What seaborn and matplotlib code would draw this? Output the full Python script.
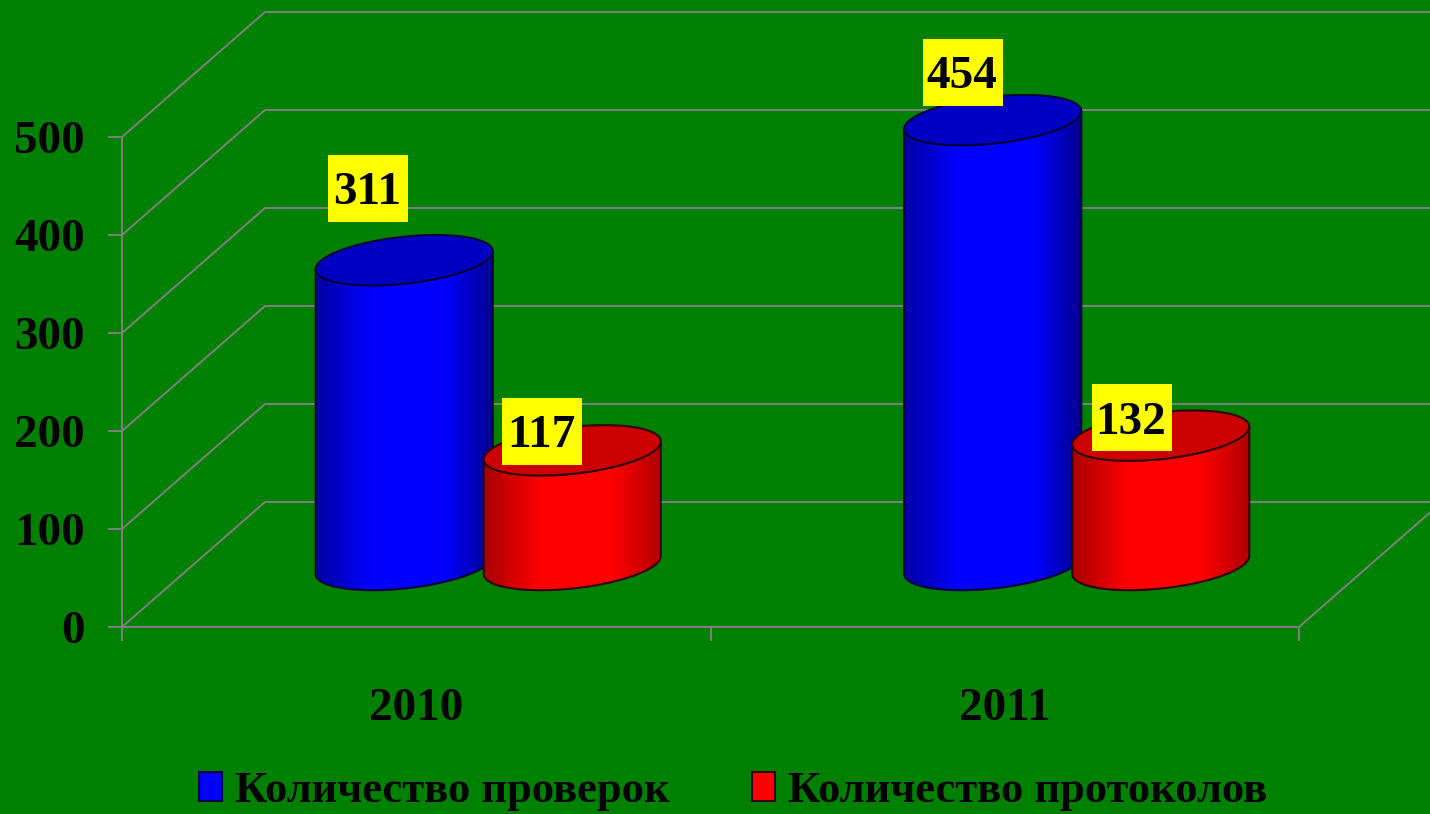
import numpy as np
import pandas as pd
import matplotlib
matplotlib.use("Agg")
import matplotlib.pyplot as plt
import seaborn as sns
from matplotlib.colors import LinearSegmentedColormap
from matplotlib.path import Path
from matplotlib.patches import Polygon, Rectangle
from matplotlib.transforms import IdentityTransform

# data
years = ["2010", "2011"]
checks = [311, 454]
protocols = [117, 132]
series_names = ["Количество проверок", "Количество протоколов"]
y_ticks = [0, 100, 200, 300, 400, 500]

GREEN = "#008000"
GRID = "#808080"
W, H = 1430, 814

# oblique 3D look, all in pixels
BACK_DX, BACK_DY = 143, 125
MID_DX, MID_DY = 72, 62
ELL_B, ELL_S = 23.5, 9
OVERLAP = 4.5  # neighbouring cylinders overlap a little

# label boxes were placed by hand in the original, offset from top of the bar
label_offsets = [[(-36, 72), (-30, 19)], [(-30, 48), (-29, 18)]]

styles = [
    dict(top="#0000c4", edge="#00003c", side=["#0000a4", "#0000ff", "#0000ff", "#000090"]),
    dict(top="#cc0000", edge="#340000", side=["#a80000", "#ff0000", "#ff0000", "#b00000"]),
]

df = pd.DataFrame({
    "year": years * 2,
    "value": checks + protocols,
    "series": [series_names[0]] * 2 + [series_names[1]] * 2,
})

plt.rcParams["font.family"] = ["Liberation Serif", "DejaVu Serif"]
plt.rcParams["font.weight"] = "bold"

fig = plt.figure(figsize=(W / 100, H / 100), dpi=100, facecolor=GREEN)
ax = fig.add_axes([122 / W, (H - 627) / H, (1299 - 122) / W, 490 / H])
ax.patch.set_alpha(0)

sns.barplot(data=df, x="year", y="value", hue="series", hue_order=series_names,
            palette=["#0000ff", "#ff0000"], saturation=1, width=0.571, gap=0, ax=ax)
ax.set_xlim(-0.5, 1.5)
ax.set_ylim(0, 500)
ax.set_xlabel("")
ax.set_ylabel("")

for s in ["top", "right"]:
    ax.spines[s].set_visible(False)
for s in ["left", "bottom"]:
    ax.spines[s].set_color(GRID)
    ax.spines[s].set_linewidth(1.4)

ax.set_yticks(y_ticks)
ax.tick_params(axis="y", length=10, width=1.4, color=GRID, labelsize=34, pad=17, labelcolor="black")
ax.set_xticks([-0.5, 0.5, 1.5])
ax.set_xticklabels([])
ax.set_xticks([0, 1], minor=True)
ax.set_xticklabels(years, minor=True)
ax.tick_params(axis="x", which="major", length=10, width=1.4, color=GRID)
ax.tick_params(axis="x", which="minor", length=0, labelsize=34, pad=44, labelcolor="black")


def px(x, y):
    return ax.transData.transform((x, y))


pix = IdentityTransform()

# walls and floor
for v in y_ticks:
    x0, y0 = px(-0.5, v)
    ax.plot([x0, x0 + BACK_DX, W + 10], [y0, y0 + BACK_DY, y0 + BACK_DY], color=GRID, lw=1.4,
            transform=pix, clip_on=False, zorder=1)
x1, y1 = px(1.5, 0)
ax.plot([x1, x1 + BACK_DX], [y1, y1 + BACK_DY], color=GRID, lw=1.4, transform=pix, clip_on=False, zorder=1)


def ellipse(cx, cy, a, t):
    return cx + a * np.cos(t), cy + ELL_S * np.cos(t) + ELL_B * np.sin(t)


# the seaborn bars give place and size, cylinders are drawn over them
z = 3
for i, cont in enumerate(ax.containers):
    st = styles[i]
    cmap = LinearSegmentedColormap.from_list("side", list(zip([0, 0.32, 0.72, 1], st["side"])))
    for j, bar in enumerate(cont):
        bar.set_visible(False)
        x_mid = bar.get_x() + bar.get_width() / 2
        l, _ = px(bar.get_x(), 0)
        r, _ = px(bar.get_x() + bar.get_width(), 0)
        cx = (l + r) / 2 + MID_DX
        a = (r - l) / 2 + OVERLAP
        _, base = px(x_mid, 0)
        _, top = px(x_mid, bar.get_height())
        base += MID_DY
        top += MID_DY

        t_low = np.linspace(np.pi, 2 * np.pi, 80)
        t_back = np.linspace(2 * np.pi, np.pi, 80)
        bx, by = ellipse(cx, base, a, t_low)
        tx, ty = ellipse(cx, top, a, t_back)
        outline = np.column_stack([np.r_[bx, tx], np.r_[by, ty]])

        im = ax.imshow(np.linspace(0, 1, 256)[None, :], cmap=cmap, aspect="auto",
                       extent=[cx - a, cx + a, base - 40, top + 40], transform=pix, zorder=z)
        im.set_clip_box(fig.bbox)
        im.set_clip_path(Path(np.vstack([outline, outline[0]])), pix)
        ax.add_patch(Polygon(outline, closed=True, fc="none", ec=st["edge"], lw=1.5,
                             transform=pix, clip_on=False, zorder=z + 0.1))

        t_all = np.linspace(0, 2 * np.pi, 160)
        ex, ey = ellipse(cx, top, a, t_all)
        ax.add_patch(Polygon(np.column_stack([ex, ey]), closed=True, fc=st["top"], ec=st["edge"], lw=1.5,
                             transform=pix, clip_on=False, zorder=z + 0.2))
        z += 1

# value labels on yellow boxes
for i, cont in enumerate(ax.containers):
    for j, bar in enumerate(cont):
        x_mid = bar.get_x() + bar.get_width() / 2
        xp, yp = px(x_mid, bar.get_height())
        dx, dy = label_offsets[j][i]
        bx, by = xp + MID_DX + dx, yp + MID_DY + dy
        ax.add_patch(Rectangle((bx - 40, by - 33.5), 80, 67, fc="#ffff00", ec="none",
                               transform=pix, clip_on=False, zorder=30))
        ax.text(bx - 1, by - 5, f"{bar.get_height():.0f}", fontsize=34, ha="center", va="center",
                color="black", transform=pix, zorder=31)

handles, labels = ax.get_legend_handles_labels()
for h, st in zip(handles, styles):
    h.set_edgecolor(st["edge"])
    h.set_linewidth(1.5)
fs = 32
em = fs * 100 / 72
ax.legend(handles, labels, loc="lower left", bbox_to_anchor=(199 / W, 3 / H), bbox_transform=fig.transFigure,
          ncol=2, frameon=False, fontsize=fs, labelcolor="black", handlelength=23 / em, handleheight=27 / em,
          handletextpad=13 / em, columnspacing=82 / em, borderpad=0, borderaxespad=0)

fig.savefig("out.png", dpi=100, facecolor=GREEN)
